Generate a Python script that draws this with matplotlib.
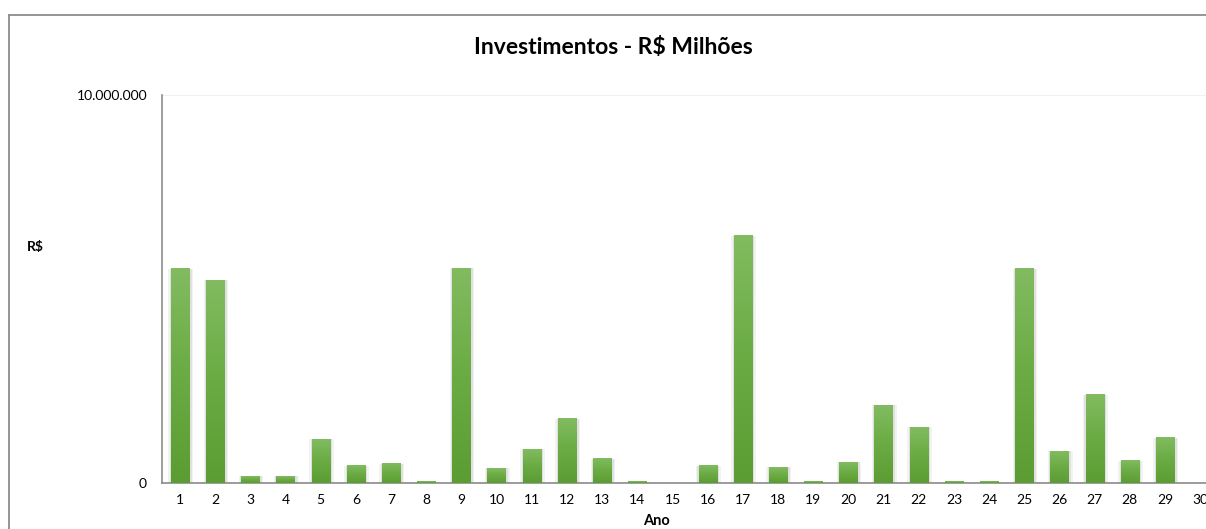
import matplotlib
matplotlib.use("Agg")
import matplotlib.pyplot as plt
import matplotlib.patches as patches
from matplotlib.lines import Line2D
import numpy as np
from matplotlib.colors import LinearSegmentedColormap
from matplotlib.ticker import FuncFormatter

plt.rcParams["font.family"] = ["Lato", "DejaVu Sans"]

# Data
anos = list(range(1, 31))
investimentos = [
    5520000, 5230000, 180000, 180000, 1130000, 440000, 490000, 30000, 5540000, 380000,
    870000, 1650000, 620000, 30000, 0, 440000, 6370000, 410000, 30000, 540000,
    2010000, 1440000, 30000, 30000, 5520000, 820000, 2270000, 570000, 1160000, 0,
]
y_ticks = [0, 10000000]

W, H = 1206, 529
fig = plt.figure(figsize=(W / 100, H / 100), dpi=100)
fig.patch.set_edgecolor("none")
fig.patch.set_linewidth(0)

# axes extends past the right edge like the cropped original
ax = fig.add_axes([162.4 / W, 1 - 483 / H, 1055.4 / W, 388 / H])
ax.patch.set_visible(False)

grad = LinearSegmentedColormap.from_list("g", ["#5b9c33", "#6aab43", "#82bb60"])
bar_w = 0.52
bars = ax.bar(anos, investimentos, width=bar_w, color="none", zorder=3)
for b in bars:
    x0, h = b.get_x(), b.get_height()
    if h <= 0:
        continue
    # soft shadow around the bar
    for k, a in [(0.09, 0.05), (0.05, 0.07)]:
        ax.add_patch(patches.Rectangle((x0 - k + 0.02, 0), bar_w + 2 * k, h, facecolor="#000000",
                                       alpha=a, edgecolor="none", zorder=2))
    img = np.linspace(0, 1, 100).reshape(-1, 1)
    ax.imshow(img, cmap=grad, origin="lower", aspect="auto",
              extent=(x0, x0 + bar_w, 0, h), zorder=3)

ax.set_xlim(0.5, 30.5)
ax.set_ylim(0, 10000000)
ax.set_xticks(anos)
ax.set_yticks(y_ticks)
ax.yaxis.set_major_formatter(FuncFormatter(lambda v, p: f"{int(v):,}".replace(",", ".")))
ax.tick_params(axis="both", length=0, labelsize=10, colors="#000000")
ax.tick_params(axis="y", pad=11)
ax.tick_params(axis="x", pad=8)
ax.grid(axis="y", color="#eeeeee", linewidth=1.2, zorder=0)
ax.set_axisbelow(True)
for s in ["top", "right"]:
    ax.spines[s].set_visible(False)
for s in ["left", "bottom"]:
    ax.spines[s].set_color("#8c8c8c")
    ax.spines[s].set_linewidth(1.2)

fig.text(613 / W, 1 - 47 / H, "Investimentos - R$ Milhões", ha="center", va="center",
         fontsize=16.5, fontweight="bold")
fig.text(35 / W, 1 - 247 / H, "R$", ha="center", va="center", fontsize=10, fontweight="bold")
fig.text(656 / W, 1 - 521 / H, "Ano", ha="center", va="center", fontsize=10.5, fontweight="bold")

# chart outer border (top and left only, the rest is cropped)
fig.add_artist(Line2D([9 / W, 9 / W], [-0.05, 1 - 15 / H], transform=fig.transFigure,
                      color="#8c8c8c", linewidth=1.3))
fig.add_artist(Line2D([9 / W, 1.05], [1 - 15 / H, 1 - 15 / H], transform=fig.transFigure,
                      color="#8c8c8c", linewidth=1.3))

fig.savefig("out.png", dpi=100)
